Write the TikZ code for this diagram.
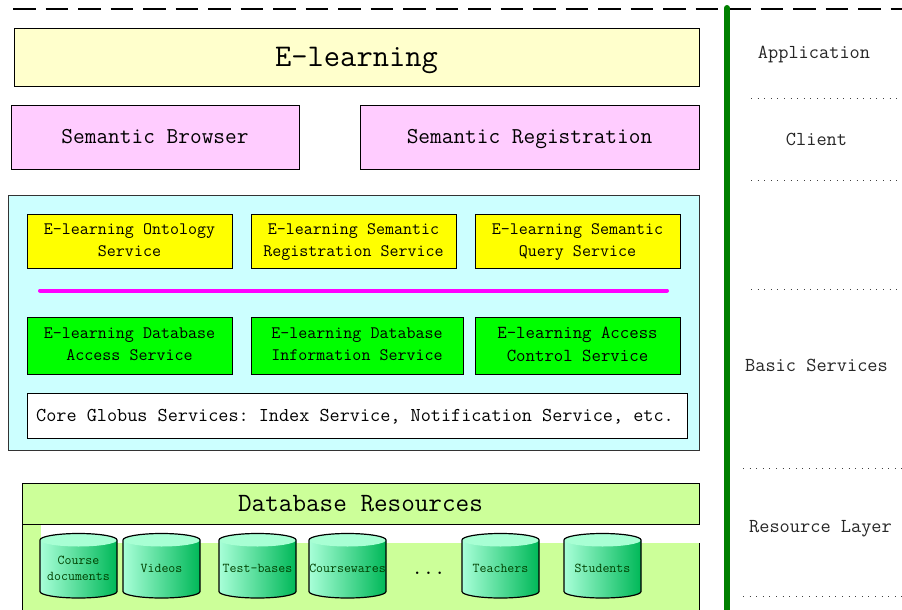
\documentclass[tikz,border=0pt]{standalone}
\usepackage{fontspec}
\usetikzlibrary{calc}
\definecolor{paleyellow}{HTML}{FFFFCC}
\definecolor{palepink}{HTML}{FFCCFF}
\definecolor{palecyan}{HTML}{CCFFFF}
\definecolor{palegreen}{HTML}{CCFF99}
\definecolor{cylL}{HTML}{A8FFD8}
\definecolor{cylR}{HTML}{00B858}
\definecolor{cylT}{HTML}{A8FFD4}
\definecolor{pureyellow}{HTML}{FFFF00}
\definecolor{puregreen}{HTML}{00FF00}
\definecolor{puremagenta}{HTML}{FF00FF}
\definecolor{bargreen}{HTML}{008000}
\newcommand{\fs}[1]{\fontsize{#1}{#1}\selectfont\ttfamily\frenchspacing}
\tikzset{
  box/.style={draw=black,line width=0.7pt,inner sep=0pt,align=center,text=black},
  titlebox/.style={box,font=\fs{#1},text height=0.65*#1 pt,text depth=0.05*#1 pt},
  service/.style={box,font={\fontsize{17.5}{22}\selectfont\ttfamily},text depth=1.8pt},
  sidelabel/.style={inner sep=0pt,font=\fs{19.8},text=black!85,text height=12.9pt,text depth=1pt},
  layerline/.style={line width=1pt,black!75,dash pattern=on 1pt off 5.6pt},
  cyllabel/.style={inner sep=0pt,align=center,text=black!75!green,font={\fontsize{13.5}{16}\selectfont\ttfamily}},
}
\newcommand{\dbcyl}[3]{%
  \shade[left color=cylL,right color=cylR]
    (#2,540) -- (#2,591.5) arc[start angle=180,end angle=0,x radius=38.5,y radius=6.5]
    -- ($(#2,540)+(77,0)$) arc[start angle=0,end angle=-180,x radius=38.5,y radius=6.5] -- cycle;
  \fill[cylT] ($(#2,540)+(38.5,0)$) ellipse[x radius=38.5,y radius=6.5];
  \draw[black,line width=1.2pt]
    (#2,540) -- (#2,591.5) arc[start angle=180,end angle=0,x radius=38.5,y radius=6.5]
    -- ($(#2,540)+(77,0)$) arc[start angle=0,end angle=-180,x radius=38.5,y radius=6.5] -- cycle;
  \node[cyllabel] (#1) at ($(#2,568.5)+(38.5,0)$) {#3};%
}
\begin{document}
\begin{tikzpicture}[x=1pt,y=-1pt]
\useasboundingbox[fill=white] (0,0) rectangle (902,610);
% top dashed line and side bar
\coordinate (dashL) at (13,9);
\coordinate (dashR) at (902,9);
\draw[line width=2.6pt,black,dash pattern=on 22.5pt off 10pt] (dashL) -- (dashR);
\coordinate (barT) at (727,8);
\coordinate (barB) at (727,610);
\draw[line width=6pt,bargreen,line cap=round] (barT) -- (barB);
% layer separators
\foreach \y/\xs in {98/751,180/751,289/751,468/743,596/743}
  \draw[layerline] (\xs,\y) -- (902,\y);
% top boxes
\node[titlebox=31.6,fill=paleyellow,minimum width=685pt,minimum height=58pt] (elearn) at (356.5,57) {E-learning};
\node[titlebox=22.7,fill=palepink,minimum width=288pt,minimum height=64pt] (browser) at (155,137) {Semantic Browser};
\node[titlebox=22.7,fill=palepink,minimum width=339pt,minimum height=64pt] (reg) at (529.5,137) {Semantic Registration};
% services panel
\node[box,fill=palecyan,draw=black!80,minimum width=691pt,minimum height=255pt] (panel) at (353.5,322.5) {};
\node[service,fill=pureyellow,minimum width=205pt,minimum height=54pt] (s1) at (129.5,241) {E-learning Ontology\\Service};
\node[service,fill=pureyellow,minimum width=205pt,minimum height=54pt] (s2) at (353.5,241) {E-learning Semantic\\Registration Service};
\node[service,fill=pureyellow,minimum width=205pt,minimum height=54pt] (s3) at (577.5,241) {E-learning Semantic\\Query Service};
\coordinate (busL) at (40,290.5);
\coordinate (busR) at (667,290.5);
\draw[line width=4pt,puremagenta,line cap=round] (busL) -- (busR);
\node[service,fill=puregreen,minimum width=205pt,minimum height=57pt] (s4) at (129.5,345.5) {E-learning Database\\Access Service};
\node[service,fill=puregreen,minimum width=212pt,minimum height=57pt] (s5) at (357,345.5) {E-learning Database\\Information Service};
\node[service,fill=puregreen,minimum width=205pt,minimum height=57pt,font={\fontsize{18.3}{23}\selectfont\ttfamily}] (s6) at (577.5,345.5) {E-learning Access\\Control Service};
\node[titlebox=19.65,fill=white,minimum width=660pt,minimum height=45pt] (core) at (357,415.5) {\hspace*{-4pt}Core Globus Services: Index Service, Notification Service, etc.};
% database resources
\fill[palegreen] (22,524) rectangle (41,610);
\fill[palegreen] (41,543) rectangle (699,610);
\draw[line width=0.7pt] (22,524) -- (22,610);
\draw[line width=0.7pt] (699,543) -- (699,610);
\node[titlebox=26.4,fill=palegreen,minimum width=677pt,minimum height=41pt] (dbhead) at (360.5,503.5) {Database Resources};
\dbcyl{c1}{40}{Course\\documents}
\dbcyl{c2}{123}{Videos}
\dbcyl{c3}{219}{Test-bases}
\dbcyl{c4}{309}{Coursewares}
\node[inner sep=0pt,anchor=base,font=\fs{22}] (more) at (428.5,574) {...};
\dbcyl{c5}{462}{Teachers}
\dbcyl{c6}{564}{Students}
% layer labels
\node[sidelabel] (lapp) at (814,53) {Application};
\node[sidelabel] (lcli) at (816.5,140) {Client};
\node[sidelabel] (lbas) at (816.5,366) {Basic Services};
\node[sidelabel] (lres) at (820.5,527) {Resource Layer};
\end{tikzpicture}
\end{document}
